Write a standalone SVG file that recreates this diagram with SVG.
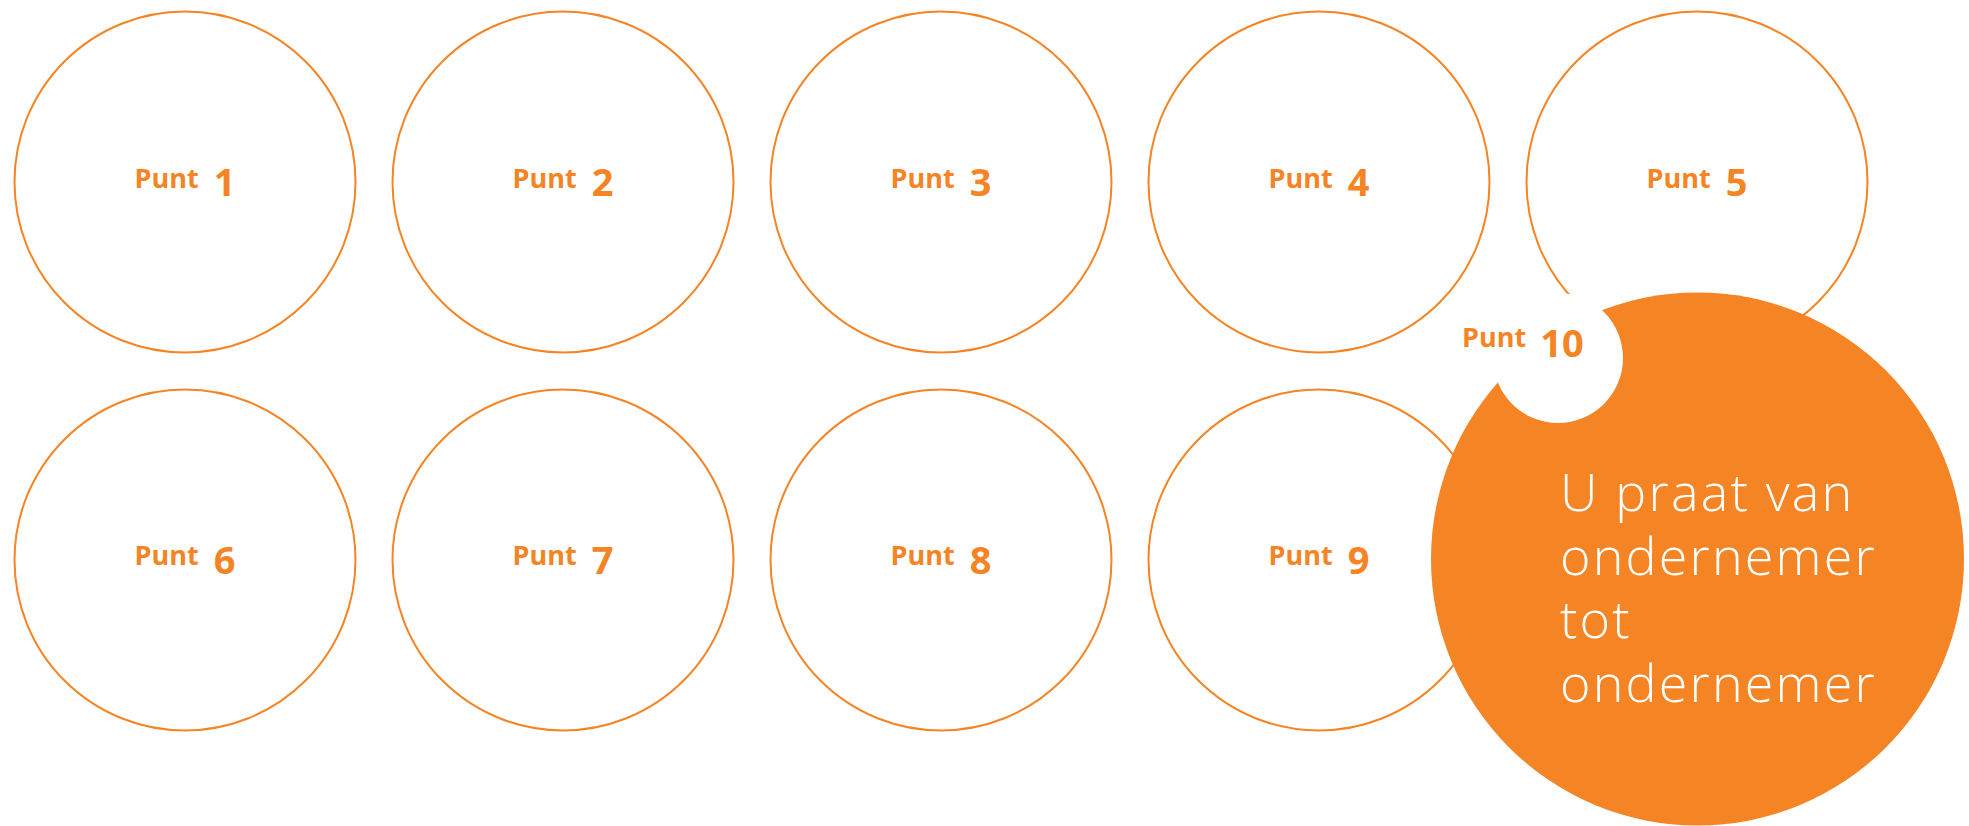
<svg xmlns="http://www.w3.org/2000/svg" width="1969" height="826" viewBox="0 0 1969 826">
<style>
.ring{fill:#ffffff;stroke:#F48424;stroke-width:2}
.lbl{font-family:"Open Sans","Noto Sans",sans-serif;font-weight:700;font-size:27px;fill:#F48424;text-anchor:middle}
.num{font-size:38px}
.big{font-family:"Open Sans","Noto Sans",sans-serif;font-weight:300;font-size:52px;fill:#ffffff;letter-spacing:2.2px}
</style>
<rect width="1969" height="826" fill="#ffffff"/>
<g id="connectors"/>
<g id="punt1"><circle class="ring" cx="185" cy="182" r="170.5"/><text class="lbl" x="185" y="188">Punt<tspan class="num" dx="15" dy="8">1</tspan></text></g>
<g id="punt2"><circle class="ring" cx="563" cy="182" r="170.5"/><text class="lbl" x="563" y="188">Punt<tspan class="num" dx="15" dy="8">2</tspan></text></g>
<g id="punt3"><circle class="ring" cx="941" cy="182" r="170.5"/><text class="lbl" x="941" y="188">Punt<tspan class="num" dx="15" dy="8">3</tspan></text></g>
<g id="punt4"><circle class="ring" cx="1319" cy="182" r="170.5"/><text class="lbl" x="1319" y="188">Punt<tspan class="num" dx="15" dy="8">4</tspan></text></g>
<g id="punt5"><circle class="ring" cx="1697" cy="182" r="170.5"/><text class="lbl" x="1697" y="188">Punt<tspan class="num" dx="15" dy="8">5</tspan></text></g>
<g id="punt6"><circle class="ring" cx="185" cy="560" r="170.5"/><text class="lbl" x="185" y="565">Punt<tspan class="num" dx="15" dy="9">6</tspan></text></g>
<g id="punt7"><circle class="ring" cx="563" cy="560" r="170.5"/><text class="lbl" x="563" y="565">Punt<tspan class="num" dx="15" dy="9">7</tspan></text></g>
<g id="punt8"><circle class="ring" cx="941" cy="560" r="170.5"/><text class="lbl" x="941" y="565">Punt<tspan class="num" dx="15" dy="9">8</tspan></text></g>
<g id="punt9"><circle class="ring" cx="1319" cy="560" r="170.5"/><text class="lbl" x="1319" y="565">Punt<tspan class="num" dx="15" dy="9">9</tspan></text></g>
<g id="punt10">
<circle cx="1697.5" cy="559" r="266.5" fill="#F48424"/>
<circle cx="1558" cy="358" r="65" fill="#ffffff"/>
<text class="lbl" x="1462" y="347" style="text-anchor:start">Punt<tspan class="num" dx="14" dy="10">10</tspan></text>
<text class="big" x="1560" y="511">U praat van</text>
<text class="big" x="1560" y="575">ondernemer</text>
<text class="big" x="1560" y="638">tot</text>
<text class="big" x="1560" y="702">ondernemer</text>
</g>
</svg>
